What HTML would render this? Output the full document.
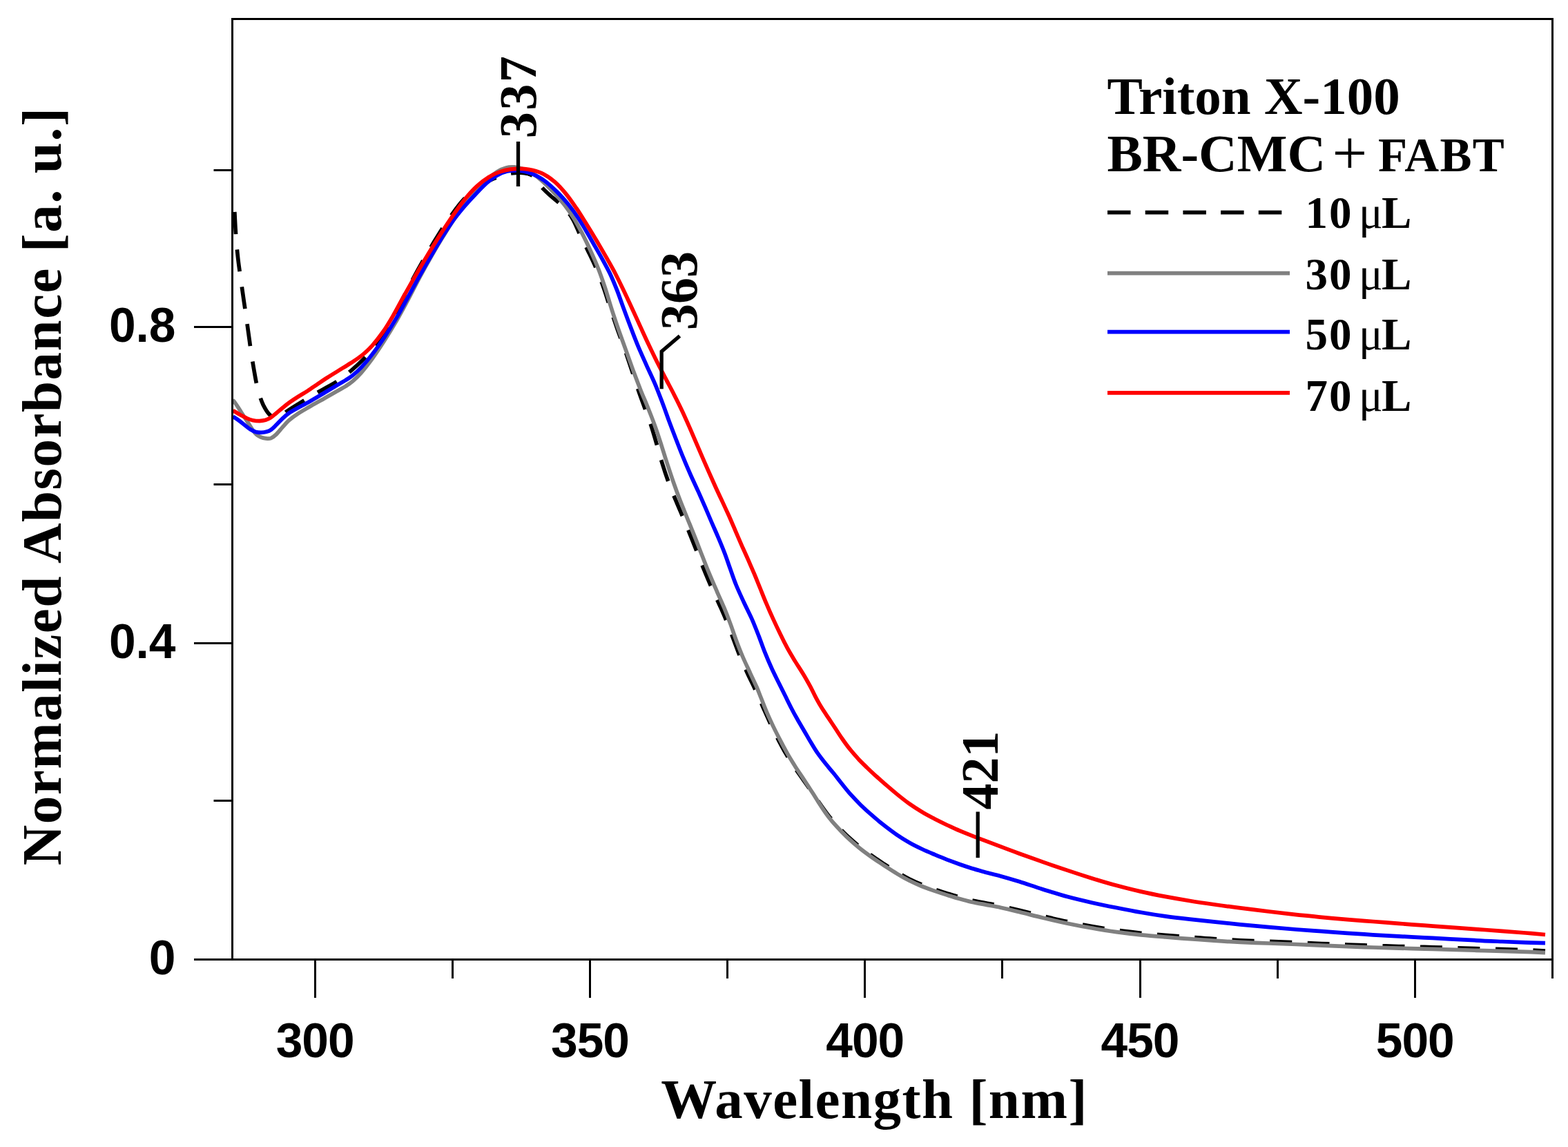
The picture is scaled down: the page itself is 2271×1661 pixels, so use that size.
<!DOCTYPE html>
<html><head><meta charset="utf-8"><title>Normalized Absorbance vs Wavelength</title>
<style>
html,body{margin:0;padding:0;background:#fff;}
svg{display:block;}
.tk{font-family:'Liberation Sans', Arial, sans-serif;font-weight:bold;font-size:69.5px;fill:#000;}
.ti{font-family:'Liberation Serif', 'Times New Roman', serif;font-weight:bold;font-size:81px;fill:#000;letter-spacing:1.5px;}
.lg{font-family:'Liberation Serif', 'Times New Roman', serif;font-weight:bold;font-size:77px;fill:#000;}
.le{font-family:'Liberation Serif', 'Times New Roman', serif;font-weight:bold;font-size:65px;fill:#000;}
.mu{font-weight:normal;}
.pk{font-family:'Liberation Serif', 'Times New Roman', serif;font-weight:bold;font-size:76px;fill:#000;}
</style></head>
<body>
<svg xmlns="http://www.w3.org/2000/svg" width="2271" height="1661" viewBox="0 0 2271 1661">
<rect width="2271" height="1661" fill="#fff"/>
<defs><clipPath id="pc"><rect x="338" y="29" width="1908.9" height="1359.2"/></clipPath></defs>
<g clip-path="url(#pc)">
<path d="M339.8,307.0 C340.0,310.9 340.6,323.0 341.0,330.5 C341.5,338.0 341.9,345.0 342.5,352.0 C343.1,358.9 343.7,365.2 344.5,372.2 C345.2,379.1 346.2,386.1 347.2,393.5 C348.1,400.8 349.3,408.8 350.4,416.1 C351.4,423.3 352.5,430.6 353.4,437.1 C354.4,443.6 355.2,449.0 356.0,455.0 C356.9,461.1 357.7,466.8 358.6,473.3 C359.5,479.9 360.5,487.3 361.5,494.2 C362.4,501.1 363.4,508.1 364.4,514.7 C365.5,521.3 366.4,527.3 367.5,533.6 C368.6,539.8 369.6,545.9 370.8,552.0 C372.1,558.0 373.3,564.0 375.0,569.7 C376.8,575.5 378.9,581.4 381.3,586.5 C383.8,591.5 386.9,596.7 389.8,599.8 C392.7,603.0 395.9,604.8 398.7,605.2 C401.5,605.6 403.9,603.8 406.7,602.2 C409.5,600.7 412.1,598.1 415.6,595.6 C419.1,593.2 423.1,590.6 427.8,587.7 C432.5,584.8 438.2,581.4 443.6,578.1 C448.9,574.9 454.9,571.2 460.1,568.2 C465.2,565.3 469.7,563.1 474.5,560.3 C479.3,557.6 483.5,555.5 489.1,551.7 C494.6,547.9 501.3,542.9 507.8,537.3 C514.3,531.8 521.9,524.8 528.1,518.4 C534.3,512.0 539.8,505.5 544.9,498.9 C550.1,492.2 554.4,485.8 558.8,478.6 C563.3,471.4 567.3,464.0 571.6,455.9 C575.9,447.7 580.0,439.1 584.7,429.9 C589.4,420.6 594.5,410.5 599.9,400.5 C605.2,390.6 611.1,380.1 616.8,370.2 C622.5,360.3 628.5,350.4 634.2,341.3 C639.8,332.2 645.6,323.3 651.0,315.6 C656.4,307.9 661.5,301.0 666.4,294.9 C671.4,288.8 676.0,283.7 680.8,279.2 C685.7,274.8 690.6,271.2 695.5,268.1 C700.3,265.1 705.3,263.0 710.2,260.8 C715.1,258.6 720.1,256.6 725.1,255.0 C730.1,253.4 735.5,251.8 740.4,251.0 C745.3,250.2 750.3,250.0 754.4,250.1 C758.6,250.2 762.2,250.8 765.2,251.8 C768.3,252.7 770.6,253.9 772.8,255.8 C775.0,257.6 776.4,260.1 778.6,263.0 C780.8,265.8 782.9,269.4 786.2,272.9 C789.4,276.4 793.7,280.2 797.9,284.0 C802.1,287.7 807.2,291.3 811.3,295.1 C815.4,298.9 819.3,302.8 822.5,306.7 C825.7,310.7 828.2,314.8 830.4,318.8 C832.6,322.7 833.9,326.2 835.8,330.4 C837.7,334.5 839.2,338.2 841.8,343.7 C844.5,349.2 848.0,355.7 851.7,363.4 C855.4,371.1 860.1,380.6 864.0,389.7 C867.8,398.9 871.4,408.6 874.8,418.2 C878.2,427.8 880.9,437.3 884.2,447.4 C887.6,457.4 891.2,468.2 894.9,478.7 C898.6,489.2 902.9,500.4 906.5,510.6 C910.0,520.8 913.2,530.4 916.2,539.6 C919.3,548.8 921.8,557.2 924.7,565.7 C927.6,574.2 930.7,582.3 933.7,590.6 C936.7,598.9 939.9,606.8 942.7,615.3 C945.5,623.7 947.8,632.0 950.5,641.2 C953.2,650.3 955.8,660.3 958.8,670.0 C961.8,679.7 965.2,690.0 968.6,699.3 C972.0,708.5 975.6,717.1 979.1,725.4 C982.5,733.7 985.8,741.0 989.2,749.2 C992.6,757.4 996.1,765.7 999.7,774.6 C1003.3,783.5 1007.1,793.4 1010.8,802.8 C1014.5,812.1 1018.3,821.8 1022.0,830.7 C1025.7,839.7 1029.4,848.1 1033.1,856.3 C1036.7,864.4 1040.4,872.0 1043.8,879.7 C1047.2,887.4 1050.4,894.7 1053.5,902.4 C1056.6,910.1 1059.3,917.8 1062.4,925.9 C1065.5,934.0 1068.6,942.8 1072.0,951.0 C1075.4,959.2 1079.4,968.0 1082.7,975.3 C1086.1,982.7 1089.4,989.0 1092.2,995.0 C1095.0,1001.1 1097.1,1005.9 1099.8,1011.8 C1102.4,1017.8 1105.0,1024.1 1108.1,1030.8 C1111.1,1037.5 1114.5,1045.1 1117.8,1052.1 C1121.2,1059.0 1124.5,1065.9 1128.0,1072.6 C1131.5,1079.3 1134.9,1085.7 1138.7,1092.1 C1142.4,1098.5 1146.4,1104.8 1150.5,1110.9 C1154.6,1117.1 1158.9,1123.0 1163.2,1129.1 C1167.6,1135.3 1172.1,1141.7 1176.4,1147.9 C1180.8,1154.1 1185.3,1160.8 1189.3,1166.4 C1193.2,1172.0 1196.6,1176.8 1200.3,1181.5 C1204.0,1186.1 1207.1,1189.8 1211.4,1194.5 C1215.7,1199.2 1220.7,1204.4 1226.1,1209.6 C1231.6,1214.7 1238.1,1220.5 1244.1,1225.4 C1250.2,1230.3 1256.5,1234.8 1262.6,1239.1 C1268.7,1243.5 1274.7,1247.4 1280.8,1251.4 C1286.9,1255.3 1292.9,1259.3 1299.0,1262.9 C1305.0,1266.5 1311.1,1270.0 1317.1,1273.1 C1323.2,1276.1 1329.2,1278.8 1335.3,1281.2 C1341.3,1283.7 1347.4,1285.7 1353.4,1287.8 C1359.5,1289.9 1365.6,1291.8 1371.6,1293.7 C1377.7,1295.6 1383.7,1297.5 1389.6,1299.2 C1395.6,1300.9 1401.3,1302.4 1407.5,1303.8 C1413.7,1305.2 1419.7,1306.2 1426.6,1307.5 C1433.6,1308.9 1440.7,1310.0 1449.1,1311.8 C1457.4,1313.6 1466.6,1315.9 1476.7,1318.3 C1486.9,1320.8 1498.5,1323.8 1510.0,1326.6 C1521.6,1329.3 1534.0,1332.2 1546.0,1334.7 C1557.9,1337.2 1569.9,1339.5 1581.7,1341.5 C1593.6,1343.6 1605.3,1345.4 1617.1,1347.0 C1628.9,1348.7 1640.7,1350.0 1652.5,1351.3 C1664.3,1352.5 1676.2,1353.4 1687.9,1354.4 C1699.7,1355.4 1711.3,1356.2 1723.0,1357.1 C1734.7,1358.0 1745.9,1358.9 1758.1,1359.6 C1770.4,1360.4 1783.1,1361.2 1796.4,1361.8 C1809.7,1362.4 1824.3,1362.9 1837.8,1363.4 C1851.4,1363.9 1864.8,1364.3 1877.6,1364.9 C1890.4,1365.4 1902.3,1366.0 1914.6,1366.5 C1926.9,1367.0 1939.1,1367.5 1951.5,1368.0 C1963.8,1368.5 1976.3,1369.0 1988.7,1369.4 C2001.1,1369.8 2013.5,1370.1 2025.9,1370.5 C2038.3,1370.8 2050.7,1371.1 2063.1,1371.4 C2075.5,1371.8 2087.8,1372.2 2100.3,1372.5 C2112.7,1372.9 2125.2,1373.3 2137.7,1373.7 C2150.3,1374.1 2163.5,1374.4 2175.5,1374.7 C2187.5,1375.0 2199.4,1375.3 2209.8,1375.7 C2220.2,1376.1 2233.3,1376.7 2238.0,1377.0" stroke="#000" stroke-width="5.7" fill="none" stroke-dasharray="32 22.5" stroke-linejoin="round"/>
<path d="M337.0,579.0 C337.7,579.9 339.7,582.3 341.0,584.1 C342.3,585.9 343.6,587.8 344.9,589.9 C346.3,591.9 347.5,594.1 349.1,596.5 C350.6,598.8 352.3,601.4 354.1,604.2 C355.9,607.0 358.0,610.2 360.0,613.2 C361.9,616.2 363.8,619.6 365.7,622.2 C367.6,624.8 369.1,627.2 371.1,629.0 C373.0,630.8 375.0,631.9 377.3,632.9 C379.6,633.9 382.4,634.6 384.9,634.8 C387.3,635.1 389.8,635.5 392.3,634.6 C394.8,633.6 397.2,631.8 400.0,629.1 C402.8,626.5 406.0,622.1 409.2,618.6 C412.3,615.2 415.3,611.6 418.9,608.4 C422.4,605.3 425.8,602.8 430.7,599.6 C435.6,596.3 441.9,592.8 448.4,589.0 C454.8,585.3 462.8,580.9 469.3,577.2 C475.8,573.6 482.2,569.9 487.4,566.9 C492.6,563.9 496.5,561.8 500.5,559.3 C504.4,556.7 507.2,555.1 511.0,551.8 C514.9,548.5 518.7,544.8 523.4,539.5 C528.0,534.2 533.3,527.4 538.9,519.8 C544.4,512.1 550.7,502.7 556.6,493.5 C562.5,484.3 568.6,474.3 574.4,464.4 C580.1,454.4 585.4,444.4 591.0,434.0 C596.5,423.6 602.0,412.5 607.7,401.9 C613.4,391.3 619.4,380.5 625.1,370.6 C630.8,360.7 636.4,351.1 641.9,342.3 C647.4,333.4 652.5,325.0 657.8,317.3 C663.1,309.7 668.3,302.8 673.6,296.1 C678.9,289.5 684.3,283.2 689.6,277.3 C694.9,271.3 700.2,265.4 705.3,260.7 C710.3,255.9 715.2,251.8 719.8,248.8 C724.4,245.9 728.7,244.0 733.0,242.9 C737.2,241.7 741.1,241.6 745.1,241.9 C749.1,242.2 753.0,243.2 757.1,244.5 C761.1,245.9 765.0,247.5 769.4,250.2 C773.8,252.8 778.3,256.0 783.5,260.5 C788.7,265.0 794.9,271.1 800.6,277.1 C806.3,283.2 812.5,290.3 817.6,296.8 C822.7,303.4 827.0,309.6 831.3,316.4 C835.5,323.3 839.1,330.1 843.1,337.9 C847.1,345.6 851.2,354.2 855.2,362.9 C859.2,371.6 863.4,381.0 867.0,390.3 C870.6,399.5 873.7,408.8 876.9,418.3 C880.0,427.8 882.5,437.3 885.8,447.3 C889.0,457.4 892.7,468.2 896.3,478.7 C900.0,489.2 904.2,500.4 907.8,510.6 C911.5,520.8 914.8,530.4 918.2,539.6 C921.6,548.8 924.8,557.2 928.2,565.7 C931.6,574.2 935.2,582.3 938.5,590.6 C941.8,598.9 945.0,606.8 948.0,615.3 C951.1,623.7 953.8,632.0 956.8,641.2 C959.7,650.3 962.8,660.3 965.9,670.0 C969.1,679.7 972.4,690.0 975.7,699.3 C978.9,708.5 982.1,717.1 985.3,725.4 C988.5,733.7 991.6,741.0 994.9,749.2 C998.2,757.4 1001.7,765.7 1005.2,774.6 C1008.8,783.5 1012.5,793.4 1016.2,802.8 C1019.9,812.1 1023.6,821.8 1027.3,830.7 C1031.0,839.7 1034.7,848.1 1038.3,856.3 C1041.8,864.4 1045.4,872.0 1048.6,879.7 C1051.8,887.4 1054.7,894.7 1057.5,902.4 C1060.4,910.1 1062.8,917.8 1065.8,925.9 C1068.8,934.0 1072.2,942.8 1075.7,951.0 C1079.2,959.2 1083.5,968.0 1086.8,975.3 C1090.2,982.7 1093.3,989.0 1096.0,995.0 C1098.6,1001.1 1100.3,1005.9 1102.7,1011.8 C1105.1,1017.8 1107.4,1024.1 1110.3,1030.8 C1113.2,1037.5 1116.7,1045.1 1120.0,1052.1 C1123.3,1059.0 1126.9,1065.9 1130.4,1072.6 C1133.8,1079.3 1137.3,1085.7 1140.9,1092.1 C1144.6,1098.5 1148.5,1104.7 1152.4,1110.9 C1156.4,1117.1 1160.6,1123.0 1164.6,1129.2 C1168.7,1135.4 1172.9,1142.0 1177.0,1148.3 C1181.1,1154.7 1185.2,1161.5 1189.1,1167.3 C1192.9,1173.1 1196.3,1178.1 1200.0,1182.9 C1203.7,1187.7 1206.9,1191.5 1211.3,1196.3 C1215.6,1201.1 1220.7,1206.4 1226.1,1211.6 C1231.6,1216.8 1238.1,1222.5 1244.1,1227.5 C1250.2,1232.5 1256.5,1237.0 1262.6,1241.3 C1268.7,1245.6 1274.7,1249.6 1280.8,1253.6 C1286.9,1257.5 1292.9,1261.5 1299.0,1265.1 C1305.0,1268.8 1311.1,1272.3 1317.1,1275.3 C1323.2,1278.4 1329.2,1281.0 1335.3,1283.5 C1341.3,1286.0 1347.4,1288.0 1353.4,1290.1 C1359.5,1292.2 1365.6,1294.2 1371.6,1296.1 C1377.7,1298.0 1383.7,1299.9 1389.6,1301.5 C1395.6,1303.2 1401.3,1304.8 1407.5,1306.2 C1413.7,1307.6 1419.7,1308.6 1426.6,1309.9 C1433.6,1311.3 1440.7,1312.4 1449.1,1314.2 C1457.4,1316.0 1466.6,1318.3 1476.7,1320.8 C1486.9,1323.2 1498.5,1326.3 1510.0,1329.0 C1521.6,1331.8 1534.0,1334.7 1546.0,1337.2 C1557.9,1339.7 1569.9,1342.0 1581.7,1344.0 C1593.6,1346.1 1605.3,1348.0 1617.1,1349.6 C1628.9,1351.2 1640.7,1352.6 1652.5,1353.8 C1664.3,1355.0 1676.2,1356.0 1687.9,1357.0 C1699.7,1358.0 1711.3,1358.8 1723.0,1359.7 C1734.7,1360.5 1745.9,1361.4 1758.1,1362.2 C1770.4,1363.0 1783.1,1363.8 1796.4,1364.4 C1809.7,1365.0 1824.3,1365.5 1837.8,1366.0 C1851.4,1366.5 1864.8,1366.9 1877.6,1367.5 C1890.4,1368.0 1902.3,1368.6 1914.6,1369.1 C1926.9,1369.6 1939.1,1370.2 1951.5,1370.6 C1963.8,1371.1 1976.3,1371.6 1988.7,1372.0 C2001.1,1372.4 2013.5,1372.8 2025.9,1373.1 C2038.3,1373.5 2050.7,1373.7 2063.1,1374.1 C2075.5,1374.4 2087.8,1374.8 2100.3,1375.2 C2112.7,1375.5 2125.2,1376.0 2137.7,1376.3 C2150.3,1376.7 2163.5,1377.0 2175.5,1377.3 C2187.5,1377.7 2199.4,1377.9 2209.8,1378.3 C2220.2,1378.7 2233.3,1379.4 2238.0,1379.6" stroke="#808080" stroke-width="5.7" fill="none" stroke-linejoin="round"/>
<path d="M337.5,603.3 C338.8,604.1 342.6,606.4 345.3,608.4 C348.1,610.4 351.1,613.0 354.0,615.2 C356.9,617.5 359.8,620.1 362.6,621.8 C365.3,623.5 367.7,624.8 370.3,625.5 C372.9,626.3 375.5,626.4 378.1,626.4 C380.7,626.3 383.4,626.0 385.8,625.3 C388.2,624.6 390.2,623.9 392.5,622.3 C394.9,620.7 397.1,618.3 399.9,615.5 C402.7,612.8 406.2,608.8 409.4,605.8 C412.6,602.9 415.7,600.2 419.3,597.7 C422.9,595.2 426.1,593.6 430.9,590.9 C435.8,588.2 442.0,585.0 448.4,581.4 C454.7,577.8 462.7,573.1 469.2,569.2 C475.8,565.4 482.2,561.4 487.4,558.3 C492.6,555.1 496.5,553.0 500.5,550.6 C504.4,548.1 507.2,546.5 511.0,543.4 C514.9,540.3 518.7,536.9 523.4,531.9 C528.0,526.9 533.4,520.7 538.9,513.4 C544.5,506.2 550.8,497.3 556.6,488.6 C562.4,479.8 568.2,470.5 573.8,461.1 C579.3,451.7 584.4,442.1 590.0,431.9 C595.6,421.7 601.5,410.5 607.4,400.0 C613.3,389.5 619.5,378.8 625.2,369.0 C630.9,359.2 636.4,349.9 641.8,341.3 C647.2,332.7 652.4,324.7 657.7,317.4 C663.0,310.2 668.2,304.1 673.5,297.9 C678.8,291.8 684.2,285.9 689.5,280.4 C694.8,274.9 700.0,269.4 705.1,264.9 C710.2,260.5 715.0,256.8 719.9,254.0 C724.9,251.2 729.5,249.3 734.6,248.1 C739.8,246.9 745.2,246.5 751.0,247.0 C756.8,247.5 763.3,248.7 769.5,251.1 C775.8,253.6 782.3,257.2 788.6,261.7 C794.9,266.2 801.2,272.3 807.1,278.1 C813.0,284.0 818.7,290.6 823.8,296.8 C828.8,303.1 833.1,309.1 837.3,315.4 C841.6,321.8 845.1,328.0 849.1,334.7 C853.1,341.4 857.1,348.5 861.1,355.6 C865.2,362.7 869.6,370.3 873.5,377.4 C877.3,384.5 881.1,391.1 884.4,398.2 C887.7,405.3 890.4,412.0 893.5,419.9 C896.6,427.8 899.6,436.7 902.9,445.8 C906.3,454.9 910.0,465.2 913.7,474.6 C917.3,484.1 920.9,493.6 924.7,502.6 C928.5,511.6 932.4,520.1 936.3,528.8 C940.2,537.5 944.4,546.0 948.2,554.9 C952.0,563.8 955.4,572.8 958.9,582.0 C962.5,591.3 965.7,600.8 969.2,610.2 C972.7,619.5 976.4,629.2 979.9,638.2 C983.4,647.2 986.7,655.8 990.2,664.2 C993.6,672.6 997.1,680.6 1000.6,688.5 C1004.2,696.5 1008.1,704.6 1011.5,712.2 C1014.9,719.8 1018.0,726.9 1021.2,734.1 C1024.3,741.3 1027.1,748.1 1030.3,755.5 C1033.5,762.9 1037.1,770.9 1040.4,778.6 C1043.7,786.4 1047.0,794.3 1049.9,801.9 C1052.8,809.5 1055.0,816.6 1057.8,824.2 C1060.5,831.8 1063.0,839.5 1066.3,847.5 C1069.6,855.5 1073.6,864.0 1077.4,872.3 C1081.2,880.5 1085.6,888.9 1089.2,896.9 C1092.7,905.0 1095.7,912.7 1098.8,920.6 C1101.9,928.5 1104.5,936.4 1107.7,944.4 C1110.9,952.4 1114.5,960.9 1118.0,968.5 C1121.5,976.1 1125.3,983.4 1128.5,990.0 C1131.8,996.7 1134.7,1002.5 1137.6,1008.3 C1140.5,1014.2 1143.1,1019.7 1146.0,1025.3 C1148.8,1030.8 1151.8,1036.3 1155.0,1041.8 C1158.1,1047.3 1161.4,1052.7 1164.6,1058.2 C1167.9,1063.7 1171.0,1069.4 1174.3,1074.8 C1177.5,1080.2 1180.7,1085.7 1184.2,1090.7 C1187.7,1095.7 1191.3,1100.3 1195.1,1105.1 C1198.9,1109.8 1202.9,1114.4 1206.9,1119.3 C1210.9,1124.2 1214.8,1129.4 1218.9,1134.5 C1223.1,1139.7 1227.2,1145.0 1231.8,1150.2 C1236.5,1155.4 1241.4,1160.6 1246.6,1165.7 C1251.8,1170.8 1257.3,1175.8 1263.0,1180.7 C1268.6,1185.6 1274.6,1190.6 1280.6,1195.3 C1286.6,1200.0 1292.8,1204.7 1298.9,1208.9 C1305.0,1213.1 1311.1,1216.9 1317.1,1220.3 C1323.2,1223.8 1329.2,1226.7 1335.3,1229.5 C1341.3,1232.4 1347.4,1234.9 1353.4,1237.4 C1359.5,1240.0 1365.6,1242.4 1371.6,1244.8 C1377.7,1247.1 1383.7,1249.3 1389.6,1251.5 C1395.6,1253.6 1401.3,1255.5 1407.5,1257.5 C1413.7,1259.4 1419.7,1261.0 1426.6,1262.9 C1433.6,1264.8 1440.7,1266.4 1449.1,1268.7 C1457.4,1271.0 1466.6,1273.7 1476.7,1276.8 C1486.9,1280.0 1498.5,1284.1 1510.0,1287.7 C1521.6,1291.3 1534.0,1295.3 1546.0,1298.6 C1557.9,1301.8 1569.9,1304.6 1581.7,1307.2 C1593.6,1309.9 1605.3,1312.2 1617.1,1314.5 C1628.9,1316.9 1640.7,1319.3 1652.5,1321.3 C1664.3,1323.4 1676.2,1325.3 1687.9,1326.9 C1699.7,1328.5 1711.3,1329.8 1723.0,1331.1 C1734.7,1332.4 1745.9,1333.6 1758.1,1334.9 C1770.4,1336.1 1783.1,1337.5 1796.4,1338.8 C1809.7,1340.1 1824.3,1341.4 1837.8,1342.6 C1851.4,1343.8 1864.8,1344.9 1877.6,1346.0 C1890.4,1347.0 1902.3,1347.8 1914.6,1348.7 C1926.9,1349.6 1939.1,1350.5 1951.5,1351.3 C1963.8,1352.1 1976.3,1353.0 1988.7,1353.8 C2001.1,1354.5 2013.5,1355.2 2025.9,1355.9 C2038.3,1356.6 2050.7,1357.1 2063.1,1357.8 C2075.5,1358.4 2087.8,1359.1 2100.3,1359.8 C2112.7,1360.5 2125.2,1361.2 2137.7,1361.8 C2150.3,1362.5 2163.5,1363.0 2175.5,1363.5 C2187.5,1364.0 2199.4,1364.4 2209.8,1364.8 C2220.2,1365.1 2233.3,1365.5 2238.0,1365.6" stroke="#0000FF" stroke-width="5.7" fill="none" stroke-linejoin="round"/>
<path d="M337.5,594.5 C339.2,595.5 344.4,598.7 347.7,600.5 C351.0,602.3 354.0,604.2 357.1,605.5 C360.2,606.9 363.2,608.1 366.3,608.7 C369.5,609.4 372.9,609.6 375.9,609.6 C379.0,609.5 382.0,609.0 384.6,608.3 C387.3,607.5 389.4,606.5 391.9,604.9 C394.4,603.3 396.8,601.1 399.7,598.7 C402.6,596.3 406.1,593.2 409.4,590.5 C412.8,587.8 416.0,585.1 419.8,582.4 C423.5,579.8 427.3,577.3 431.7,574.5 C436.0,571.8 441.2,568.7 445.8,565.8 C450.3,562.8 454.7,559.9 459.1,556.9 C463.5,553.9 467.2,551.2 472.2,548.0 C477.2,544.8 483.0,541.2 488.9,537.6 C494.8,533.9 501.8,529.8 507.6,526.0 C513.5,522.2 518.6,519.1 523.8,514.9 C529.0,510.7 533.6,506.6 538.8,500.9 C543.9,495.1 549.7,487.8 554.8,480.5 C559.9,473.3 564.4,465.6 569.2,457.4 C574.0,449.2 578.2,441.0 583.5,431.4 C588.8,421.9 595.0,410.7 601.0,400.3 C607.0,390.0 613.5,379.0 619.4,369.2 C625.4,359.3 631.2,349.9 636.8,341.1 C642.4,332.4 648.0,323.8 652.9,316.6 C657.7,309.5 661.8,303.7 665.9,298.2 C670.0,292.7 673.2,288.4 677.4,283.6 C681.7,278.7 686.4,273.5 691.5,269.0 C696.5,264.5 702.2,260.0 707.6,256.7 C713.0,253.3 718.4,250.8 723.8,248.9 C729.1,247.0 734.4,245.8 739.7,245.1 C745.0,244.3 750.3,244.2 755.6,244.4 C760.9,244.6 766.3,245.2 771.6,246.5 C776.9,247.8 782.2,249.4 787.5,252.2 C792.8,255.0 798.1,258.7 803.5,263.4 C808.8,268.1 814.3,274.1 819.6,280.6 C824.9,287.0 830.3,295.0 835.3,302.2 C840.2,309.5 845.1,317.6 849.2,324.1 C853.3,330.7 856.6,336.0 859.8,341.4 C863.0,346.7 865.4,350.7 868.6,356.1 C871.8,361.6 875.3,367.6 879.0,374.1 C882.6,380.6 886.7,387.7 890.6,395.0 C894.4,402.4 898.1,409.8 902.0,417.9 C905.9,426.0 910.0,434.8 914.1,443.7 C918.2,452.5 922.4,461.8 926.5,470.9 C930.7,480.0 934.8,489.2 939.0,498.0 C943.2,506.9 947.5,515.8 951.7,524.2 C955.9,532.5 960.1,540.4 964.2,548.4 C968.3,556.3 972.5,563.9 976.4,571.7 C980.4,579.4 984.3,587.4 987.9,594.9 C991.5,602.4 994.5,609.5 997.8,616.9 C1001.1,624.4 1003.9,631.1 1007.6,639.7 C1011.3,648.2 1015.6,658.2 1020.0,668.3 C1024.4,678.4 1029.7,690.4 1034.0,700.0 C1038.3,709.7 1042.3,718.1 1046.0,725.9 C1049.6,733.8 1052.6,740.0 1055.9,747.2 C1059.1,754.4 1062.3,762.1 1065.4,769.4 C1068.6,776.7 1071.7,784.0 1074.7,790.9 C1077.8,797.7 1080.6,803.8 1083.5,810.4 C1086.4,817.1 1089.4,823.7 1092.3,830.7 C1095.2,837.6 1098.0,844.8 1101.0,852.0 C1103.9,859.2 1106.6,866.3 1109.8,873.7 C1112.9,881.1 1116.3,888.9 1119.8,896.4 C1123.2,903.9 1126.9,911.6 1130.4,918.7 C1133.8,925.8 1137.1,932.4 1140.6,938.9 C1144.1,945.3 1147.8,951.3 1151.6,957.6 C1155.5,963.9 1160.0,970.6 1163.7,976.8 C1167.5,983.1 1171.0,989.4 1174.0,994.9 C1176.9,1000.4 1178.8,1004.8 1181.4,1009.7 C1184.0,1014.6 1186.6,1019.3 1189.7,1024.3 C1192.8,1029.3 1196.6,1034.8 1200.0,1039.9 C1203.3,1044.9 1206.5,1049.6 1209.7,1054.5 C1213.0,1059.5 1216.0,1064.4 1219.6,1069.5 C1223.1,1074.6 1227.1,1080.2 1231.1,1085.1 C1235.0,1090.1 1239.3,1094.8 1243.3,1099.2 C1247.4,1103.5 1251.3,1107.3 1255.3,1111.2 C1259.3,1115.1 1263.0,1118.6 1267.4,1122.6 C1271.8,1126.6 1276.3,1130.6 1281.5,1135.1 C1286.7,1139.6 1292.7,1144.8 1298.6,1149.6 C1304.5,1154.4 1310.9,1159.5 1317.0,1163.9 C1323.1,1168.2 1329.2,1172.1 1335.3,1175.7 C1341.4,1179.4 1347.4,1182.5 1353.4,1185.7 C1359.5,1188.8 1365.6,1191.8 1371.6,1194.7 C1377.7,1197.5 1383.7,1200.3 1389.6,1202.9 C1395.6,1205.4 1401.3,1207.7 1407.5,1210.1 C1413.7,1212.5 1419.7,1214.7 1426.6,1217.4 C1433.6,1220.0 1440.7,1222.8 1449.1,1225.9 C1457.4,1229.1 1466.6,1232.5 1476.7,1236.2 C1486.9,1239.9 1498.5,1244.1 1510.0,1248.1 C1521.6,1252.2 1534.0,1256.4 1546.0,1260.4 C1557.9,1264.4 1569.9,1268.3 1581.7,1271.9 C1593.6,1275.6 1605.3,1279.1 1617.1,1282.3 C1628.9,1285.5 1640.7,1288.5 1652.5,1291.1 C1664.3,1293.8 1676.2,1296.2 1687.9,1298.4 C1699.7,1300.6 1711.3,1302.6 1723.0,1304.5 C1734.7,1306.4 1745.9,1308.0 1758.1,1309.7 C1770.4,1311.5 1783.1,1313.2 1796.4,1314.9 C1809.7,1316.6 1824.3,1318.4 1837.8,1320.0 C1851.4,1321.6 1864.8,1323.2 1877.6,1324.6 C1890.4,1325.9 1902.3,1327.2 1914.6,1328.3 C1926.9,1329.5 1939.1,1330.6 1951.5,1331.6 C1963.8,1332.6 1976.3,1333.5 1988.7,1334.5 C2001.1,1335.5 2013.5,1336.4 2025.9,1337.4 C2038.3,1338.3 2050.7,1339.3 2063.1,1340.2 C2075.5,1341.1 2087.8,1342.0 2100.3,1342.9 C2112.7,1343.8 2125.2,1344.7 2137.7,1345.6 C2150.3,1346.5 2163.5,1347.4 2175.5,1348.3 C2187.5,1349.2 2199.4,1350.2 2209.8,1351.0 C2220.2,1351.9 2233.3,1353.1 2238.0,1353.5" stroke="#FF0000" stroke-width="5.7" fill="none" stroke-linejoin="round"/>
</g>
<rect x="336.5" y="27.5" width="1912.0" height="1362.0" fill="none" stroke="#000" stroke-width="3"/>
<g stroke="#000" stroke-width="3"><line x1="281" y1="1389.5" x2="336.5" y2="1389.5"/><line x1="309.5" y1="1159.5" x2="336.5" y2="1159.5"/><line x1="281" y1="931.5" x2="336.5" y2="931.5"/><line x1="309.5" y1="701.5" x2="336.5" y2="701.5"/><line x1="281" y1="473.5" x2="336.5" y2="473.5"/><line x1="309.5" y1="246.5" x2="336.5" y2="246.5"/><line x1="456.5" y1="1389.5" x2="456.5" y2="1445"/><line x1="655.5" y1="1389.5" x2="655.5" y2="1417"/><line x1="854.5" y1="1389.5" x2="854.5" y2="1445"/><line x1="1053.5" y1="1389.5" x2="1053.5" y2="1417"/><line x1="1252.5" y1="1389.5" x2="1252.5" y2="1445"/><line x1="1451.5" y1="1389.5" x2="1451.5" y2="1417"/><line x1="1651.5" y1="1389.5" x2="1651.5" y2="1445"/><line x1="1850.5" y1="1389.5" x2="1850.5" y2="1417"/><line x1="2049.5" y1="1389.5" x2="2049.5" y2="1445"/><line x1="2248.5" y1="1389.5" x2="2248.5" y2="1417"/></g>
<g stroke="#000" stroke-width="5.3" fill="none"><line x1="750.5" y1="205" x2="750.5" y2="270"/><polyline points="958.2,563.2 958.2,509 984.5,486.5"/><line x1="1416.2" y1="1175.5" x2="1416.2" y2="1242.2"/></g>
<text x="254.5" y="494.7" text-anchor="end" class="tk">0.8</text><text x="254.5" y="952.9" text-anchor="end" class="tk">0.4</text><text x="254.5" y="1410.9" text-anchor="end" class="tk">0</text><text x="456.2" y="1530.7" text-anchor="middle" class="tk" style="letter-spacing:-1px">300</text><text x="854.5" y="1530.7" text-anchor="middle" class="tk" style="letter-spacing:-1px">350</text><text x="1252.8" y="1530.7" text-anchor="middle" class="tk" style="letter-spacing:-1px">400</text><text x="1651.0" y="1530.7" text-anchor="middle" class="tk" style="letter-spacing:-1px">450</text><text x="2049.3" y="1530.7" text-anchor="middle" class="tk" style="letter-spacing:-1px">500</text>
<text x="1266.5" y="1618.6" text-anchor="middle" class="ti">Wavelength [nm]</text>
<text transform="translate(88,703.8) rotate(-90)" text-anchor="middle" class="ti">Normalized Absorbance [a. u.]</text>
<text x="1603.5" y="165" class="lg">Triton X-100</text>
<text x="1603.5" y="247.7" class="lg">BR-CMC</text>
<text x="1929.4" y="252.3" class="lg" style="font-size:90px;font-weight:normal">+</text>
<text x="1996" y="247.7" class="lg" style="font-size:69px;letter-spacing:1.3px">FABT</text>
<line x1="1604" y1="307.7" x2="1868" y2="307.7" stroke="#000" stroke-width="5.7" stroke-dasharray="33.5 21.2"/><text y="330.3" class="le"><tspan x="1890.5" style="letter-spacing:2px">10</tspan><tspan x="1968" class="mu">&#956;</tspan><tspan x="2001">L</tspan></text>
<line x1="1604" y1="395.7" x2="1868" y2="395.7" stroke="#808080" stroke-width="5.7"/><text y="418.7" class="le"><tspan x="1890.5" style="letter-spacing:2px">30</tspan><tspan x="1968" class="mu">&#956;</tspan><tspan x="2001">L</tspan></text>
<line x1="1604" y1="480.7" x2="1868" y2="480.7" stroke="#0000FF" stroke-width="5.7"/><text y="506.3" class="le"><tspan x="1890.5" style="letter-spacing:2px">50</tspan><tspan x="1968" class="mu">&#956;</tspan><tspan x="2001">L</tspan></text>
<line x1="1604" y1="568.9" x2="1868" y2="568.9" stroke="#FF0000" stroke-width="5.7"/><text y="594.7" class="le"><tspan x="1890.5" style="letter-spacing:2px">70</tspan><tspan x="1968" class="mu">&#956;</tspan><tspan x="2001">L</tspan></text>
<text transform="translate(776,139.5) rotate(-90)" text-anchor="middle" class="pk" style="letter-spacing:2.5px">337</text>
<text transform="translate(1009,421) rotate(-90)" text-anchor="middle" class="pk" style="letter-spacing:0px">363</text>
<text transform="translate(1445,1115.5) rotate(-90)" text-anchor="middle" class="pk" style="letter-spacing:0px">421</text>
</svg>
</body></html>
